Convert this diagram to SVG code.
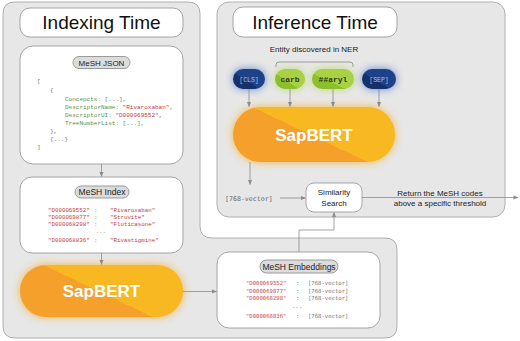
<svg xmlns="http://www.w3.org/2000/svg" width="520" height="341" viewBox="0 0 520 341">
<defs>
<style>
.panel{fill:#e7e7e7;stroke:#b0b0b0;stroke-width:1}
.box{fill:#fff;stroke:#a5a5a5;stroke-width:1}
.pill{fill:#dcdcdc;stroke:#9a9a9a;stroke-width:1}
.title{font-family:"Liberation Sans",Arial,sans-serif;font-size:19px;fill:#111;text-anchor:middle}
.lbl{font-family:"Liberation Sans",Arial,sans-serif;font-size:8px;fill:#222;text-anchor:middle}
.plbl{font-family:"Liberation Sans",Arial,sans-serif;font-size:8.5px;fill:#222;text-anchor:middle}
.sap{font-family:"Liberation Sans",Arial,sans-serif;font-size:17px;font-weight:bold;fill:#fff;text-anchor:middle}
.json{font-family:"Liberation Mono","Courier New",monospace;font-size:6px;fill:#777}
.k{fill:#5a8f5a}
.s{fill:#c23b3b}
.idx{font-family:"Liberation Mono","Courier New",monospace;font-size:5.8px;fill:#c23b3b}
.emb{font-family:"DejaVu Sans Mono",monospace;font-size:5.6px;fill:#d04545}
.g{fill:#777}
.vec{font-family:"DejaVu Sans Mono",monospace;font-size:6.6px;fill:#666}
.tokb{font-family:"Liberation Mono","Courier New",monospace;font-size:6.5px;fill:#a9bde0;text-anchor:middle}
.tokg{font-family:"Liberation Mono","Courier New",monospace;font-size:8px;font-weight:bold;fill:#2f3a1c;text-anchor:middle}
.edge{fill:none;stroke:#8c8c8c;stroke-width:0.8}
</style>
<marker id="arr" viewBox="0 0 6 6" refX="5.5" refY="3" markerWidth="5" markerHeight="5" orient="auto" markerUnits="userSpaceOnUse">
<path d="M0,0.5 L6,3 L0,5.5 z" fill="#8c8c8c"/>
</marker>
<filter id="glow" x="-30%" y="-60%" width="160%" height="220%">
<feGaussianBlur stdDeviation="4.5"/>
</filter>
<linearGradient id="sapA" gradientUnits="userSpaceOnUse" x1="88" y1="312" x2="108" y2="270">
<stop offset="0.5" stop-color="#f4a02a"/><stop offset="0.5" stop-color="#f8b822"/>
</linearGradient>
<linearGradient id="sapB" gradientUnits="userSpaceOnUse" x1="301" y1="156" x2="321" y2="114">
<stop offset="0.5" stop-color="#f4a02a"/><stop offset="0.5" stop-color="#f8b822"/>
</linearGradient>
<linearGradient id="blue" x1="0" y1="1" x2="1" y2="0">
<stop offset="0.42" stop-color="#15306a"/><stop offset="0.42" stop-color="#1d428a"/>
</linearGradient>
<linearGradient id="green" x1="0" y1="1" x2="1" y2="0">
<stop offset="0.4" stop-color="#8dbf2c"/><stop offset="0.4" stop-color="#a8d243"/>
</linearGradient>
</defs>
<rect width="520" height="341" fill="#fff"/>

<g id="indexing-panel">
<path class="panel" d="M15,2 H188 Q200,2 200,14 V226 Q200,238 212,238 H385 Q397,238 397,250 V326 Q397,338 385,338 H15 Q3,338 3,326 V14 Q3,2 15,2 Z"/>
</g>
<g id="inference-panel">
<rect class="panel" x="217" y="2" width="288" height="215" rx="12"/>
</g>

<g id="indexing-title">
<rect class="box" x="20" y="8" width="163" height="29" rx="10"/>
<text class="title" x="101.5" y="29">Indexing Time</text>
</g>

<g id="inference-title">
<rect class="box" x="233" y="7" width="164" height="30" rx="10"/>
<text class="title" x="315" y="28.5">Inference Time</text>
</g>

<g id="mesh-json">
<rect class="box" x="20" y="46" width="163" height="118" rx="13"/>
<rect class="pill" x="73" y="56.5" width="57" height="12" rx="6"/>
<text class="lbl" x="101.5" y="65.5">MeSH JSON</text>
<text class="json" x="37" y="83">[</text>
<text class="json" x="50" y="92">{</text>
<text class="json" x="65" y="101"><tspan class="k">Concepcts: [...],</tspan></text>
<text class="json" x="65" y="109"><tspan class="k">DescriptorName: </tspan><tspan class="s">"Rivaroxaban"</tspan>,</text>
<text class="json" x="65" y="117"><tspan class="k">DescriptorUI: </tspan><tspan class="s">"D000069552"</tspan>,</text>
<text class="json" x="65" y="125"><tspan class="k">TreeNumberList: [...],</tspan></text>
<text class="json" x="50" y="133">},</text>
<text class="json" x="50" y="141">{...}</text>
<text class="json" x="37" y="149">]</text>
</g>

<g id="mesh-index">
<rect class="box" x="20" y="177" width="163" height="76" rx="12"/>
<rect class="pill" x="75" y="186" width="54" height="12" rx="6"/>
<text class="plbl" x="102" y="195">MeSH Index</text>
<text class="idx" x="48" y="212">"D000069552"</text><text class="idx g" x="94" y="212">:</text><text class="idx" x="110" y="212">"Rivaroxaban"</text>
<text class="idx" x="48" y="219">"D000069877"</text><text class="idx g" x="94" y="219">:</text><text class="idx" x="110" y="219">"Struvite"</text>
<text class="idx" x="48" y="226">"D000068298"</text><text class="idx g" x="94" y="226">:</text><text class="idx" x="110" y="226">"Fluticasone"</text>
<text class="idx g" x="95.5" y="233">...</text>
<text class="idx" x="48" y="242">"D000068836"</text><text class="idx g" x="94" y="242">:</text><text class="idx" x="110" y="242">"Rivastigmine"</text>
</g>

<g id="sapbert-index">
<rect x="20" y="265" width="163" height="52" rx="26" fill="#f6ad26" opacity="0.85" filter="url(#glow)"/>
<rect x="20" y="265" width="163" height="52" rx="26" fill="url(#sapA)"/>
<text class="sap" x="101.5" y="297">SapBERT</text>
</g>

<g id="mesh-embeddings">
<rect class="box" x="217" y="252" width="163" height="76" rx="12"/>
<rect class="pill" x="260" y="260" width="78" height="13" rx="6.5"/>
<text class="plbl" x="299" y="269.5">MeSH Embeddings</text>
<text class="emb" x="246" y="285">"D000069552"</text><text class="emb g" x="296" y="285">:</text><text class="emb g" x="308" y="285">[768-vector]</text>
<text class="emb" x="246" y="292.5">"D000069877"</text><text class="emb g" x="296" y="292.5">:</text><text class="emb g" x="308" y="292.5">[768-vector]</text>
<text class="emb" x="246" y="300">"D000068298"</text><text class="emb g" x="296" y="300">:</text><text class="emb g" x="308" y="300">[768-vector]</text>
<text class="emb g" x="292" y="308">...</text>
<text class="emb" x="246" y="318">"D000068836"</text><text class="emb g" x="296" y="318">:</text><text class="emb g" x="308" y="318">[768-vector]</text>
</g>

<g id="entity-label">
<text class="lbl" x="314" y="52">Entity discovered in NER</text>
<path d="M276,67 V65 Q276,62 279,62 H350 Q353,62 353,65 V67" fill="none" stroke="#8c8c8c" stroke-width="0.8"/>
</g>

<g id="tok-cls">
<rect x="233" y="69" width="32" height="20" rx="10" fill="#2a5ab8" opacity="0.7" filter="url(#glow)"/>
<rect x="233" y="69" width="32" height="20" rx="10" fill="url(#blue)"/>
<text class="tokb" x="249" y="81.5">[CLS]</text>
</g>
<g id="tok-carb">
<rect x="275" y="69" width="30" height="20" rx="10" fill="#a8d243" opacity="0.7" filter="url(#glow)"/>
<rect x="275" y="69" width="30" height="20" rx="10" fill="url(#green)"/>
<text class="tokg" x="290" y="82">carb</text>
</g>
<g id="tok-aryl">
<rect x="312" y="69" width="42" height="20" rx="10" fill="#a8d243" opacity="0.7" filter="url(#glow)"/>
<rect x="312" y="69" width="42" height="20" rx="10" fill="url(#green)"/>
<text class="tokg" x="333" y="82">##aryl</text>
</g>
<g id="tok-sep">
<rect x="362" y="69" width="34" height="20" rx="10" fill="#2a5ab8" opacity="0.7" filter="url(#glow)"/>
<rect x="362" y="69" width="34" height="20" rx="10" fill="url(#blue)"/>
<text class="tokb" x="379" y="81.5">[SEP]</text>
</g>

<g id="sapbert-inference">
<rect x="233" y="107" width="162" height="55" rx="27.5" fill="#f6ad26" opacity="0.85" filter="url(#glow)"/>
<rect x="233" y="107" width="162" height="55" rx="27.5" fill="url(#sapB)"/>
<text class="sap" x="314" y="141">SapBERT</text>
</g>

<g id="vector-label">
<text class="vec" x="225" y="200.5">[768-vector]</text>
</g>

<g id="similarity-search">
<rect class="box" x="306" y="183" width="56" height="29" rx="8"/>
<text class="lbl" x="334" y="195">Similarity</text>
<text class="lbl" x="334" y="206">Search</text>
</g>

<g id="return-label">
<text class="lbl" x="440" y="196">Return the MeSH codes</text>
<text class="lbl" x="440" y="206">above a specific threshold</text>
</g>

<g id="connectors">
<path class="edge" d="M101.5,164 V176.5" marker-end="url(#arr)"/>
<path class="edge" d="M101.5,253 V264.5" marker-end="url(#arr)"/>
<path class="edge" d="M183,291.5 H216.5" marker-end="url(#arr)"/>
<path class="edge" d="M299,252 V230 H334 V212.5" marker-end="url(#arr)"/>
<path class="edge" d="M249,89 V106.5" marker-end="url(#arr)"/>
<path class="edge" d="M290,89 V106.5" marker-end="url(#arr)"/>
<path class="edge" d="M333,89 V106.5" marker-end="url(#arr)"/>
<path class="edge" d="M379,89 V106.5" marker-end="url(#arr)"/>
<path class="edge" d="M250,162 V184.5" marker-end="url(#arr)"/>
<path class="edge" d="M280,198 H305.5" marker-end="url(#arr)"/>
<path class="edge" d="M362,197.5 H518" marker-end="url(#arr)"/>
</g>
</svg>
